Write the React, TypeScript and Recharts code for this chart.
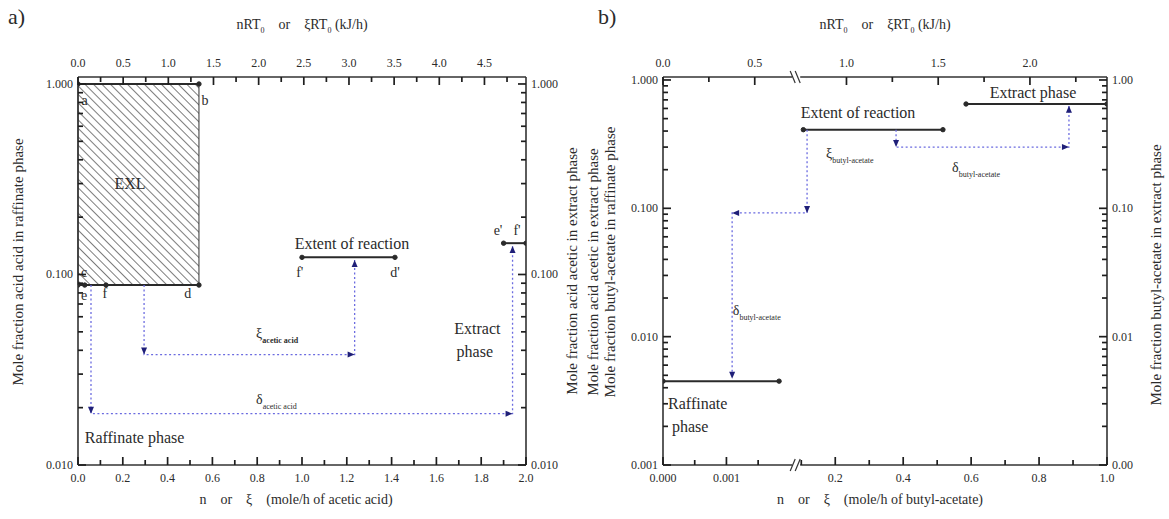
import React from 'react';
import { ComposedChart, Line, XAxis, YAxis, ReferenceArea, ReferenceDot } from 'recharts';

type Pt = { x: number; y: number };
type Note = { t: string; x: number; y: number; s?: number; a?: 'start' | 'middle' | 'end'; sub?: string; bold?: boolean };

const FONT = '"Liberation Serif", "DejaVu Serif", serif';
const AXIS = '#333';
const TICK = '#1e1e1e';
const TXT = '#2b2b2b';
const INK = '#2a2a2a';
const DOTTED = '#6b6be0';
const HEAD = '#1f1f78';

// ---------- panel a : acetic acid ----------
const A_N_TICKS = [0, 0.1, 0.2, 0.3, 0.4, 0.5, 0.6, 0.7, 0.8, 0.9, 1.0, 1.1, 1.2, 1.3, 1.4, 1.5, 1.6, 1.7, 1.8, 1.9, 2.0];
const A_KJ_TICKS = [0, 0.25, 0.5, 0.75, 1.0, 1.25, 1.5, 1.75, 2.0, 2.25, 2.5, 2.75, 3.0, 3.25, 3.5, 3.75, 4.0, 4.25, 4.5, 4.75];
const A_KJ_MAX = 4.96;
const A_Y_TICKS = [0.01, 0.02, 0.03, 0.04, 0.05, 0.06, 0.07, 0.08, 0.09, 0.1, 0.2, 0.3, 0.4, 0.5, 0.6, 0.7, 0.8, 0.9, 1.0];
const A_Y_DOMAIN = [0.01, 1.088];

const A_EXL_X = [0, 0.54];
const A_EXL_Y = [0.088, 1.0];
const A_LINE_AB: Pt[] = [{ x: 0, y: 1.0 }, { x: 0.54, y: 1.0 }];
const A_LINE_CD: Pt[] = [{ x: 0, y: 0.088 }, { x: 0.03, y: 0.088 }, { x: 0.125, y: 0.088 }, { x: 0.54, y: 0.088 }];
const A_EXTENT: Pt[] = [{ x: 1.0, y: 0.123 }, { x: 1.415, y: 0.123 }];
const A_EXTRACT: Pt[] = [{ x: 1.9, y: 0.146 }, { x: 2.0, y: 0.146 }];
const A_XI_PATH: Pt[] = [{ x: 0.295, y: 0.088 }, { x: 0.295, y: 0.038 }, { x: 1.235, y: 0.038 }, { x: 1.235, y: 0.119 }];
const A_DELTA_PATH: Pt[] = [{ x: 0.058, y: 0.088 }, { x: 0.058, y: 0.0186 }, { x: 1.94, y: 0.0186 }, { x: 1.94, y: 0.141 }];

const A_NOTES: Note[] = [
  { t: 'a', x: 0.03, y: 0.82 },
  { t: 'b', x: 0.567, y: 0.82 },
  { t: 'EXL', x: 0.232, y: 0.3, s: 16 },
  { t: 'c', x: 0.027, y: 0.103 },
  { t: 'e', x: 0.027, y: 0.078 },
  { t: 'f', x: 0.12, y: 0.08 },
  { t: 'd', x: 0.49, y: 0.08 },
  { t: 'Extent of reaction', x: 1.223, y: 0.146, s: 16 },
  { t: "f'", x: 0.99, y: 0.103 },
  { t: "d'", x: 1.415, y: 0.103 },
  { t: "e'", x: 1.875, y: 0.17 },
  { t: "f'", x: 1.96, y: 0.17 },
  { t: 'Extract', x: 1.68, y: 0.0524, s: 16, a: 'start' },
  { t: 'phase', x: 1.69, y: 0.0397, s: 16, a: 'start' },
  { t: 'ξ', sub: 'acetic acid', bold: true, x: 0.795, y: 0.049, a: 'start' },
  { t: 'δ', sub: 'acetic acid', x: 0.795, y: 0.0222, a: 'start' },
  { t: 'Raffinate phase', x: 0.03, y: 0.014, s: 16, a: 'start' },
];

// ---------- panel b : butyl-acetate (broken n axis) ----------
const B_LEFT_MAX = 0.0021;
const B_RIGHT_MIN = 0.085;
const B_BREAK_U = 0.3;
const toU = (v: number) =>
  v <= B_LEFT_MAX ? (v / B_LEFT_MAX) * B_BREAK_U : B_BREAK_U + ((v - B_RIGHT_MIN) / (1 - B_RIGHT_MIN)) * (1 - B_BREAK_U);

const B_N_TICKS = [0, 0.0005, 0.001, 0.0015, 0.1, 0.2, 0.3, 0.4, 0.5, 0.6, 0.7, 0.8, 0.9, 1.0];
const B_N_LABELS: Record<string, string> = { '0': '0.000', '0.001': '0.001', '0.2': '0.2', '0.4': '0.4', '0.6': '0.6', '0.8': '0.8', '1': '1.0' };
const B_KJ_TICKS = [0, 0.25, 0.5, 1.0, 1.25, 1.5, 1.75, 2.0, 2.25];
const B_KJ_MAX = 2.42;
const B_Y_TICKS = [0.001, 0.002, 0.003, 0.004, 0.005, 0.006, 0.007, 0.008, 0.009, 0.01, 0.02, 0.03, 0.04, 0.05, 0.06, 0.07, 0.08, 0.09, 0.1, 0.2, 0.3, 0.4, 0.5, 0.6, 0.7, 0.8, 0.9, 1.0];
const B_Y_DOMAIN = [0.001, 1.055];

const B_RAFFINATE: Pt[] = [{ x: 0, y: 0.0045 }, { x: 0.00183, y: 0.0045 }];
const B_EXTENT: Pt[] = [{ x: 0.106, y: 0.41 }, { x: 0.517, y: 0.41 }];
const B_EXTRACT: Pt[] = [{ x: 0.585, y: 0.65 }, { x: 1.0, y: 0.65 }];
const B_XI_PATH: Pt[] = [{ x: 0.117, y: 0.41 }, { x: 0.117, y: 0.092 }, { x: 0.00109, y: 0.092 }, { x: 0.00109, y: 0.0047 }];
const B_DELTA_PATH: Pt[] = [{ x: 0.379, y: 0.41 }, { x: 0.379, y: 0.3 }, { x: 0.888, y: 0.3 }, { x: 0.888, y: 0.63 }];

const B_NOTES: Note[] = [
  { t: 'Extent of reaction', x: 0.267, y: 0.56, s: 16 },
  { t: 'ξ', sub: 'butyl-acetate', x: 0.173, y: 0.27, a: 'start' },
  { t: 'Extract phase', x: 0.782, y: 0.8, s: 16 },
  { t: 'δ', sub: 'butyl-acetate', x: 0.544, y: 0.21, a: 'start' },
  { t: 'δ', sub: 'butyl-acetate', x: 0.0011, y: 0.0161, a: 'start' },
  { t: 'Raffinate', x: 0.00008, y: 0.003, s: 16, a: 'start' },
  { t: 'phase', x: 0.00014, y: 0.002, s: 16, a: 'start' },
];

// ---------- helpers ----------
type Side = 'top' | 'bottom' | 'left' | 'right';

const isDecade = (v: number) => Math.abs(Math.log10(v) - Math.round(Math.log10(v))) < 1e-6;

function breakMark(side: Side, x: number, y: number) {
  const s = side === 'top' ? 1 : -1;
  return (
    <g>
      <rect x={x - 4} y={y - 2} width={8} height={4} fill="#fff" />
      <line x1={x - 6} y1={y - 6 * s} x2={x - 1} y2={y + 6 * s} stroke={AXIS} strokeWidth={1.2} />
      <line x1={x - 1} y1={y - 6 * s} x2={x + 4} y2={y + 6 * s} stroke={AXIS} strokeWidth={1.2} />
    </g>
  );
}

function tickRenderer(side: Side, label: (v: number) => string | null, isBreak?: (v: number) => boolean) {
  return (props: any) => {
    const x = Number(props.x);
    const y = Number(props.y);
    const { payload, index } = props;
    const v = payload.value;
    if (isBreak && isBreak(v)) return <g key={`k${index}`}>{breakMark(side, x, y)}</g>;
    const t = label(v);
    const len = t === null ? 5 : 8;
    const tp = { fontSize: 12, fill: TXT, fontFamily: FONT };
    // tick marks point into the plot
    const x2 = side === 'left' ? x + len : side === 'right' ? x - len : x;
    const y2 = side === 'bottom' ? y - len : side === 'top' ? y + len : y;
    const tx = side === 'left' ? x - 5 : side === 'right' ? x + 5 : x;
    const ty = side === 'bottom' ? y + 17 : side === 'top' ? y - 10 : y + 4;
    const anchor = side === 'left' ? 'end' : side === 'right' ? 'start' : 'middle';
    return (
      <g key={`k${index}`}>
        <line x1={x} y1={y} x2={x2} y2={y2} stroke={TICK} strokeWidth={1.7} />
        {t && <text x={tx} y={ty} textAnchor={anchor} {...tp}>{t}</text>}
      </g>
    );
  };
}

function arrowDot(data: Pt[]) {
  return (props: any) => {
    const { cx, cy, index } = props;
    if (!index || cx == null || cy == null) return <g key={`a${index}`} />;
    const p = data[index];
    const q = data[index - 1];
    const ux = Math.sign(p.x - q.x);
    const uy = -Math.sign(p.y - q.y);
    const L = 7;
    const W = 3;
    const bx = cx - ux * L;
    const by = cy - uy * L;
    const px = -uy;
    const py = ux;
    const pts = `${cx},${cy} ${bx + px * W},${by + py * W} ${bx - px * W},${by - py * W}`;
    return <polygon key={`a${index}`} points={pts} fill={HEAD} />;
  };
}

function noteText(p: any, n: Note) {
  const vb = p.viewBox ?? { x: p.x, y: p.y, width: 0, height: 0 };
  const cx = vb.x + (vb.width ?? 0) / 2;
  const cy = vb.y + (vb.height ?? 0) / 2;
  return (
    <text x={cx} y={cy} dy="0.35em" textAnchor={n.a ?? 'middle'} fontSize={n.s ?? 14} fill={TXT} fontFamily={FONT}>
      {n.t}
      {n.sub && (
        <tspan fontSize={8} dy={5} fontWeight={n.bold ? 'bold' : 'normal'}>
          {n.sub}
        </tspan>
      )}
    </text>
  );
}

const axisLine = { stroke: AXIS, strokeWidth: 1.6 };

function solid(id: string, data: Pt[], xId: string, yId: string, map = (v: number) => v) {
  return (
    <Line
      key={id}
      xAxisId={xId}
      yAxisId={yId}
      data={data.map((p) => ({ x: map(p.x), y: p.y }))}
      dataKey="y"
      type="linear"
      stroke={INK}
      strokeWidth={2}
      dot={{ r: 2.2, fill: INK, stroke: INK, strokeWidth: 1 }}
      activeDot={false}
      isAnimationActive={false}
    />
  );
}

function dotted(id: string, data: Pt[], xId: string, yId: string, map = (v: number) => v) {
  return (
    <Line
      key={id}
      xAxisId={xId}
      yAxisId={yId}
      data={data.map((p) => ({ x: map(p.x), y: p.y }))}
      dataKey="y"
      type="linear"
      stroke={DOTTED}
      strokeWidth={1.3}
      strokeDasharray="2 2.5"
      dot={arrowDot(data)}
      activeDot={false}
      isAnimationActive={false}
    />
  );
}

// invisible carrier so the top (energy) axis gets a domain of its own
function carrier(id: string, kjMax: number, yMin: number) {
  return (
    <Line
      key={id}
      xAxisId="kj"
      yAxisId="l"
      data={[{ x: 0, y: yMin }, { x: kjMax, y: yMin }]}
      dataKey="y"
      stroke="none"
      dot={false}
      activeDot={false}
      isAnimationActive={false}
    />
  );
}

function notes(list: Note[], xId: string, yId: string, map = (v: number) => v) {
  return list.map((n, i) => (
    <ReferenceDot
      key={`n${i}`}
      xAxisId={xId}
      yAxisId={yId}
      x={map(n.x)}
      y={n.y}
      r={0}
      fill="none"
      stroke="none"
      ifOverflow="visible"
      label={(p: any) => noteText(p, n)}
    />
  ));
}

const title: React.CSSProperties = { position: 'absolute', fontFamily: FONT, color: TXT, whiteSpace: 'nowrap', fontSize: 14 };
const rotated = (x: number, y: number): React.CSSProperties => ({
  ...title,
  left: x,
  top: y,
  fontSize: 15,
  transform: 'translate(-50%, -50%) rotate(-90deg)',
});
const centered = (x: number, y: number): React.CSSProperties => ({ ...title, left: x, top: y, transform: 'translate(-50%, -50%)' });

function PanelA() {
  const nLabel = (v: number) => (Math.round(v * 10) % 2 === 0 ? v.toFixed(1) : null);
  const kjLabel = (v: number) => (Math.round(v * 4) % 2 === 0 ? v.toFixed(1) : null);
  const yLabel = (v: number) => (isDecade(v) ? v.toFixed(3) : null);
  return (
    <ComposedChart width={590} height={519} margin={{ top: 47, right: 24, bottom: 24, left: 38 }}>
      <defs>
        <pattern id="hatchA" patternUnits="userSpaceOnUse" width="6" height="6" patternTransform="rotate(-45)">
          <line x1="0" y1="0" x2="0" y2="6" stroke="#444" strokeWidth="1.4" />
        </pattern>
      </defs>
      <XAxis xAxisId="n" type="number" dataKey="x" domain={[0, 2]} ticks={A_N_TICKS} interval={0} orientation="bottom" height={30}
        tickSize={0} tickMargin={0} tickLine={false} axisLine={axisLine} tick={tickRenderer('bottom', nLabel)} allowDataOverflow />
      <XAxis xAxisId="kj" type="number" dataKey="x" domain={[0, A_KJ_MAX]} ticks={A_KJ_TICKS} interval={0} orientation="top" height={30}
        tickSize={0} tickMargin={0} tickLine={false} axisLine={axisLine} tick={tickRenderer('top', kjLabel)} allowDataOverflow />
      <YAxis yAxisId="l" type="number" scale="log" domain={A_Y_DOMAIN} ticks={A_Y_TICKS} interval={0} width={40}
        tickSize={0} tickMargin={0} tickLine={false} axisLine={axisLine} tick={tickRenderer('left', yLabel)} allowDataOverflow />
      <YAxis yAxisId="r" orientation="right" type="number" scale="log" domain={A_Y_DOMAIN} ticks={A_Y_TICKS} interval={0} width={40}
        tickSize={0} tickMargin={0} tickLine={false} axisLine={axisLine} tick={tickRenderer('right', yLabel)} allowDataOverflow />
      <ReferenceArea xAxisId="n" yAxisId="l" x1={A_EXL_X[0]} x2={A_EXL_X[1]} y1={A_EXL_Y[0]} y2={A_EXL_Y[1]}
        fill="url(#hatchA)" fillOpacity={1} stroke={AXIS} strokeWidth={1} />
      {carrier('carrier', A_KJ_MAX, A_Y_DOMAIN[0])}
      {solid('ab', A_LINE_AB, 'n', 'l')}
      {solid('cd', A_LINE_CD, 'n', 'l')}
      {solid('ext', A_EXTENT, 'n', 'l')}
      {solid('extr', A_EXTRACT, 'n', 'l')}
      {dotted('xi', A_XI_PATH, 'n', 'l')}
      {dotted('delta', A_DELTA_PATH, 'n', 'l')}
      {notes(A_NOTES, 'n', 'l')}
    </ComposedChart>
  );
}

function PanelB() {
  const ticksU = B_N_TICKS.map(toU);
  ticksU.splice(4, 0, B_BREAK_U);
  const kjBreak = B_BREAK_U * B_KJ_MAX;
  const kjTicks = [...B_KJ_TICKS];
  kjTicks.splice(3, 0, kjBreak);
  const nLabel = (u: number) => {
    const v = B_N_TICKS.find((t) => Math.abs(toU(t) - u) < 1e-9);
    return v === undefined ? null : B_N_LABELS[String(v)] ?? null;
  };
  const kjLabel = (v: number) => (Math.round(v * 4) % 2 === 0 ? v.toFixed(1) : null);
  const yLeft = (v: number) => (isDecade(v) ? v.toFixed(3) : null);
  const yRight = (v: number) => (isDecade(v) ? v.toFixed(2) : null);
  return (
    <ComposedChart width={589} height={519} margin={{ top: 47, right: 22, bottom: 24, left: 43 }}>
      <XAxis xAxisId="n" type="number" dataKey="x" domain={[0, 1]} ticks={ticksU} interval={0} orientation="bottom" height={30}
        tickSize={0} tickMargin={0} tickLine={false} axisLine={axisLine}
        tick={tickRenderer('bottom', nLabel, (u) => Math.abs(u - B_BREAK_U) < 1e-9)} allowDataOverflow />
      <XAxis xAxisId="kj" type="number" dataKey="x" domain={[0, B_KJ_MAX]} ticks={kjTicks} interval={0} orientation="top" height={30}
        tickSize={0} tickMargin={0} tickLine={false} axisLine={axisLine}
        tick={tickRenderer('top', kjLabel, (v) => Math.abs(v - kjBreak) < 1e-9)} allowDataOverflow />
      <YAxis yAxisId="l" type="number" scale="log" domain={B_Y_DOMAIN} ticks={B_Y_TICKS} interval={0} width={40}
        tickSize={0} tickMargin={0} tickLine={false} axisLine={axisLine} tick={tickRenderer('left', yLeft)} allowDataOverflow />
      <YAxis yAxisId="r" orientation="right" type="number" scale="log" domain={B_Y_DOMAIN} ticks={B_Y_TICKS} interval={0} width={40}
        tickSize={0} tickMargin={0} tickLine={false} axisLine={axisLine} tick={tickRenderer('right', yRight)} allowDataOverflow />
      {carrier('carrier', B_KJ_MAX, B_Y_DOMAIN[0])}
      {solid('raf', B_RAFFINATE, 'n', 'l', toU)}
      {solid('ext', B_EXTENT, 'n', 'l', toU)}
      {solid('extr', B_EXTRACT, 'n', 'l', toU)}
      {dotted('xi', B_XI_PATH, 'n', 'l', toU)}
      {dotted('delta', B_DELTA_PATH, 'n', 'l', toU)}
      {notes(B_NOTES, 'n', 'l', toU)}
    </ComposedChart>
  );
}

export default function App() {
  return (
    <div style={{ position: 'absolute', left: 0, top: 0, width: 1169, height: 519, background: '#fff', overflow: 'hidden', fontFamily: FONT }}>
      <div style={{ position: 'absolute', left: 0, top: 0 }}>
        <PanelA />
      </div>
      <div style={{ position: 'absolute', left: 580, top: 0 }}>
        <PanelB />
      </div>

      <div style={{ ...title, left: 8, top: 4, fontSize: 22 }}>a)</div>
      <div style={{ ...title, left: 598, top: 4, fontSize: 22 }}>b)</div>

      <div style={centered(302, 26)}>
        nRT<sub style={{ fontSize: 8 }}>0</sub>&nbsp;&nbsp;&nbsp;&nbsp;or&nbsp;&nbsp;&nbsp;&nbsp;ξRT<sub style={{ fontSize: 8 }}>0</sub> (kJ/h)
      </div>
      <div style={centered(885, 26)}>
        nRT<sub style={{ fontSize: 8 }}>0</sub>&nbsp;&nbsp;&nbsp;&nbsp;or&nbsp;&nbsp;&nbsp;&nbsp;ξRT<sub style={{ fontSize: 8 }}>0</sub> (kJ/h)
      </div>
      <div style={centered(296, 500)}>n&nbsp;&nbsp;&nbsp;&nbsp;or&nbsp;&nbsp;&nbsp;&nbsp;ξ&nbsp;&nbsp;&nbsp;&nbsp;(mole/h of acetic acid)</div>
      <div style={centered(880, 500)}>n&nbsp;&nbsp;&nbsp;&nbsp;or&nbsp;&nbsp;&nbsp;&nbsp;ξ&nbsp;&nbsp;&nbsp;&nbsp;(mole/h of butyl-acetate)</div>

      <div style={rotated(18, 262)}>Mole fraction acid acid in raffinate phase</div>
      <div style={rotated(572, 271)}>Mole fraction acid acetic in extract phase</div>
      <div style={rotated(593, 272)}>Mole fraction acid acetic in extract phase</div>
      <div style={rotated(610, 262)}>Mole fraction butyl-acetate in raffinate phase</div>
      <div style={rotated(1156, 275)}>Mole fraction butyl-acetate in extract phase</div>
    </div>
  );
}
